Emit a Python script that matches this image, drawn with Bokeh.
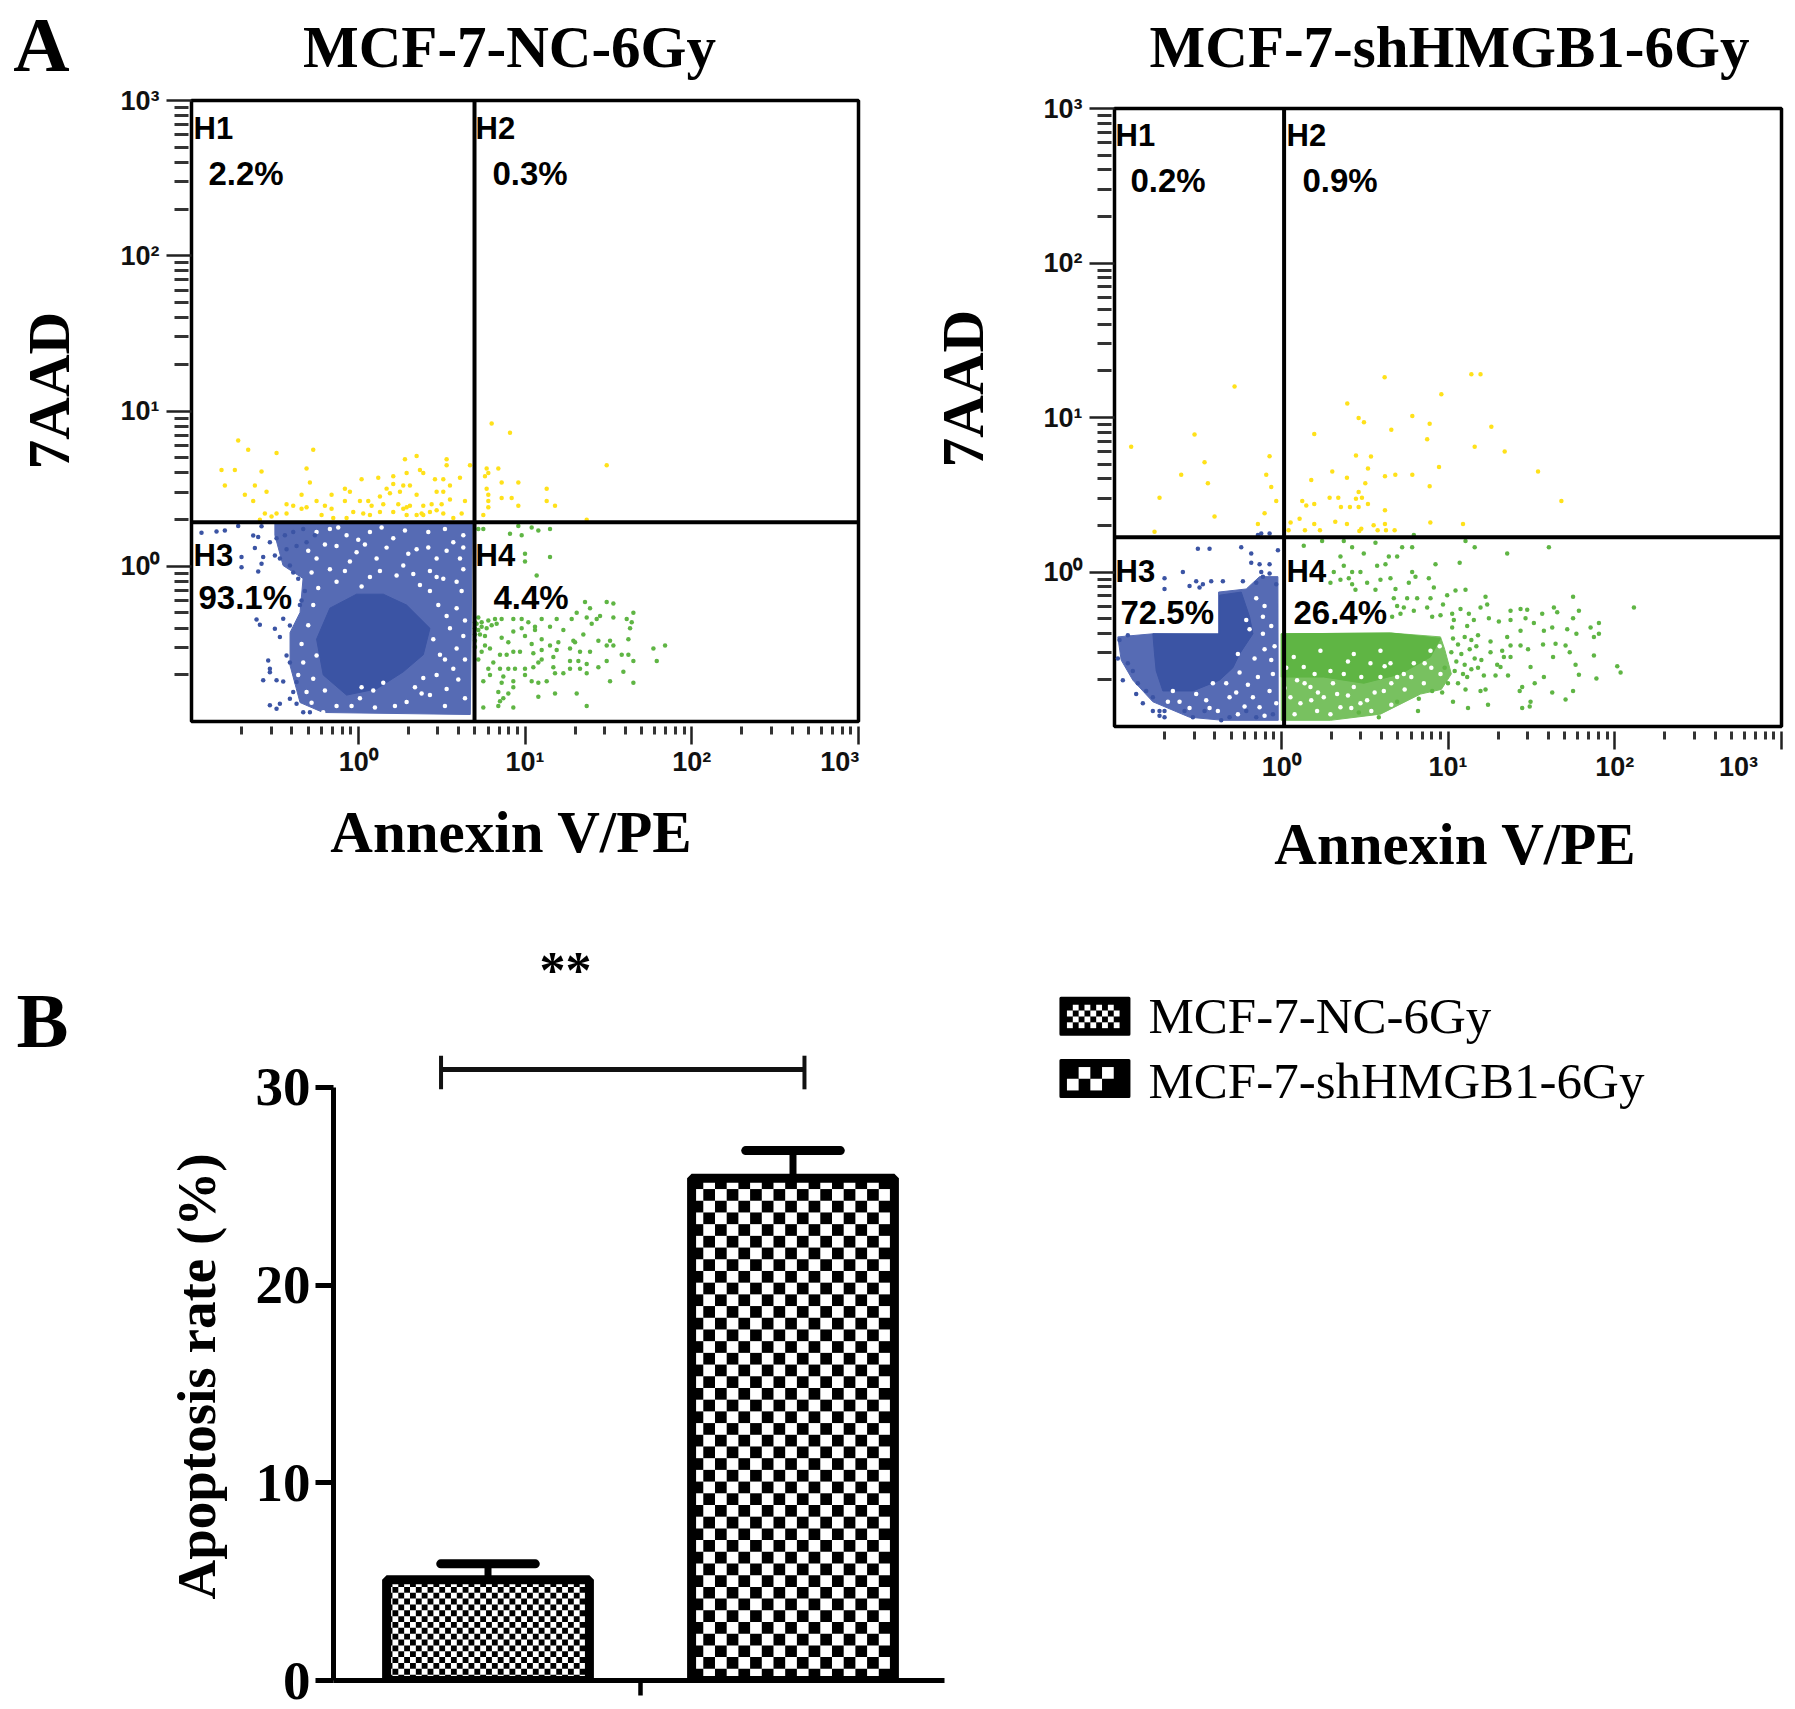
import numpy as np
from math import pi
from bokeh.plotting import figure
from bokeh.layouts import column, row
from bokeh.models import Label, Span, Range1d, FixedTicker
from bokeh.embed import file_html
from bokeh.resources import INLINE

# ---------- panel A: values are decades (log10) ----------
flow_major = [1, 10, 100, 1000]
flow_labels = {1: "10⁰", 10: "10¹", 100: "10²", 1000: "10³"}
flow_labels_x = {1: "10⁰", 10: "10¹", 100: "10²", 1000: "10³\u00A0\u00A0\u00A0\u00A0\u00A0"}
flow_minor = [m * d for d in (0.1, 1, 10, 100) for m in range(2, 10)]
gate_x = [4.98, 1.04]
gate_y = [1.92, 1.68]

nc_core_x = [-.25,-.17,-.01,.15,.29,.43,.39,.27,.11,-.07,-.21]
nc_core_y = [-.47,-.27,-.18,-.18,-.25,-.40,-.57,-.68,-.79,-.83,-.70]
nc_mid_x = [-.50,-.50,-.451,-.331,-.349,-.409,-.409,-.349,-.211,.672,.684]
nc_mid_y = [.275,.20,.005,-.079,-.298,-.427,-.639,-.878,-.942,-.955,.275]
nc_blue_x = [-.94,-.85,-.80,-.72,-.63,-.58,-.60,-.53,-.62,-.57,-.70,-.70,-.58,-.60,-.61,-.59,-.50,-.47,-.45,-.41,-.54,-.53,-.53,-.57,-.49,-.45,-.53,-.47,-.49,-.41,-.37,
             -.49,-.44,-.39,-.33,-.50,-.47,-.41,-.39,-.36,-.32,-.34,-.35,-.43,-.37,-.31,-.26,-.43,-.41,-.37,-.39,-.33,-.29]
nc_blue_y = [.215,.224,.23,.26,.198,.258,.188,.155,.117,.059,.059,-.006,.016,-.034,-.343,-.377,-.403,-.456,-.338,-.381,-.607,-.66,-.682,-.735,-.735,-.742,-.896,-.885,-.918,-.853,-.885,
             .18,.20,.22,.24,.07,.05,.005,-.04,-.08,-.16,-.22,-.25,.11,.13,.155,.20,-.575,-.62,-.745,-.81,-.94,-.94]
nc_gap_x = [-.17,-.07,.07,.21,.35,.43,.47,.57,.61,.59,.51,.43,.27,.11,-.01,-.13,-.25,-.17,-.13,.07,.02,.23,.53,.59,.55,.59,.49,.57,.47,.53,.39,.43,.29,.15,.09,.01,-.13,-.25,-.27,-.33,-.31,-.21,
            -.25,-.12,.0,.14,.28,.42,.52,.63,-.30,-.20,-.05,.04,.17,.30,.42,.53,.63,-.28,-.08,.13,.33,.47,.63,.37,.62,.48,.64,.45,.63,.52,.64,.60,.64,.52,.38,.34,.22,.10,.02,-.04,-.20,-.34,-.30,-.27,-.24,-.36,-.28]
nc_gap_y = [.24,.20,.22,.18,.11,-.03,.05,.155,.05,-.10,-.08,-.16,.005,.05,.09,.13,.05,-.02,-.10,-.07,-.13,-.06,-.32,-.27,-.40,-.53,-.57,-.66,-.70,-.79,-.72,-.83,-.875,-.75,-.80,-.85,-.90,-.575,-.725,-.62,-.81,-.94,
            .22,.25,.17,.25,.23,.22,.24,.20,.10,.14,.03,.14,.12,.08,.12,.10,.12,-.04,-.03,-.03,-.05,-.07,-.02,-.12,-.16,-.25,-.35,-.47,-.45,-.60,-.60,-.73,-.85,-.90,-.82,-.78,-.90,-.91,-.78,-.90,-.80,-.50,-.38,-.25,-.14,-.70,-.88]
nc_green_x = [.72,.75,.91,.98,1.08,1.15,1.04,.96,1.00,1.00,1.15,1.07,1.36,1.39,1.49,1.53,1.65,1.61,1.53,1.45,1.31,1.37,1.40,1.43,1.28,1.23,1.19,1.15,1.10,1.06,1.02,.98,.93,.86,.82,.78,.74,.71,.72,.77,.80,.76,.83,.93,.98,1.00,1.06,1.10,1.15,1.20,1.29,1.35,1.44,1.51,1.49,1.53,1.63,1.64,1.62,1.27,1.30,1.39,1.33,1.17,1.19,1.04,.93,.90,.86,.76,.74,.72,.79,.81,.78,.85,.89,.97,1.05,1.10,1.10,1.08,1.27,1.32,1.37,1.49,1.58,1.62,1.65,1.44,1.33,1.37,1.27,1.23,1.17,1.18,1.05,1.00,1.00,.94,.90,.85,.79,.75,.87,.86,.93,1.08,1.13,1.04,1.51,1.59,1.65,1.77,1.84,1.79,.84,.93,.90,.87,.85,1.08,1.18,1.31,1.37,.75,.93,.84,
              .70,.70,.70,.72,.74,.73,.70,.70]
nc_green_y = [.24,.24,.21,.20,.23,.24,.25,.26,.08,.03,.06,-.06,-.23,-.27,-.23,-.24,-.30,-.34,-.33,-.32,-.30,-.33,-.37,-.34,-.34,-.41,-.34,-.39,-.34,-.39,-.36,-.34,-.34,-.34,-.34,-.35,-.36,-.37,-.41,-.40,-.38,-.45,-.37,-.42,-.40,-.45,-.41,-.47,-.51,-.49,-.48,-.44,-.48,-.48,-.51,-.51,-.40,-.36,-.47,-.53,-.49,-.55,-.55,-.585,-.54,-.50,-.55,-.49,-.46,-.51,-.55,-.60,-.53,-.62,-.66,-.57,-.57,-.55,-.56,-.54,-.60,-.62,-.61,-.61,-.63,-.61,-.57,-.57,-.61,-.65,-.66,-.69,-.66,-.69,-.65,-.69,-.65,-.66,-.70,-.66,-.66,-.66,-.70,-.74,-.71,-.75,-.74,-.75,-.74,-.74,-.74,-.68,-.75,-.53,-.51,-.61,-.81,-.78,-.82,-.85,-.87,-.84,-.82,-.82,-.90,-.91,-.91,-.90,
              -.36,-.40,-.44,-.33,-.39,-.44,-.48,-.52]
nc_yellow_x = [-.72,-.66,-.49,-.27,-.82,-.74,-.58,-.31,-.80,-.62,-.68,-.55,-.63,-.29,-.34,-.43,-.39,-.25,-.31,-.34,-.20,-.16,-.16,-.08,-.05,-.08,.02,.12,.21,.28,.35,.53,.53,.29,.37,.39,.46,.51,.61,.67,.27,.31,.21,.17,.19,.25,.35,.47,.51,.55,.55,.64,.13,.01,.06,.08,.24,.15,.29,.39,.44,.50,-.03,.03,.13,.21,.27,.31,.38,.43,.47,.51,.62,-.49,-.56,-.43,-.22,-.52,-.15,-.07,.07,.29,.35,.39,.57,-.59,
               .80,.91,1.49,.77,.84,.76,.78,.86,.96,.77,1.13,.78,.86,.92,1.13,.78,.78,.96,1.18,.75,1.37]
nc_yellow_y = [.81,.75,.73,.75,.62,.62,.61,.63,.52,.52,.46,.48,.42,.54,.46,.40,.39,.42,.38,.37,.39,.46,.37,.50,.48,.42,.56,.57,.58,.69,.71,.69,.65,.60,.62,.60,.56,.56,.57,.65,.52,.52,.53,.50,.47,.48,.46,.48,.48,.52,.43,.42,.45,.42,.42,.39,.40,.40,.38,.39,.40,.40,.35,.34,.35,.35,.37,.39,.34,.35,.36,.34,.34,.34,.34,.34,.33,.32,.31,.31,.33,.33,.33,.33,.31,.30,
               .92,.86,.65,.63,.63,.58,.60,.54,.54,.50,.50,.46,.44,.44,.42,.42,.38,.39,.39,.33,.30]

sh_core_x = [-.77,-.37,-.37,-.24,-.19,-.17,-.25,-.29,-.37,-.53,-.71,-.75,-.76]
sh_core_y = [-.40,-.40,-.15,-.13,-.29,-.40,-.53,-.62,-.70,-.77,-.77,-.64,-.53]
sh_mid_x = [-.98,-.77,-.376,-.376,-.21,-.13,-.02,-.018,-.35,-.55,-.77,-.89,-.96]
sh_mid_y = [-.42,-.40,-.405,-.13,-.11,-.03,-.03,-.96,-.96,-.94,-.84,-.70,-.57]
sh_blue_x = [-.50,-.43,-.24,-.18,-.18,-.13,-.07,-.02,-.12,-.07,-.11,-.03,-.15,-.23,-.35,-.42,-.47,-.49,-.55,-.51,-.59,-.70,-.70,-.98,-.97,-.92,-.95,-.89,-.92,-.86,-.81,-.77,-.87,-.83,-.77,-.73,-.70,-.73,-.70,-.58,-.53,-.46,-.36,-.31,-.21,-.15,-.05,-.12,-.14,-.07]
sh_blue_y = [.15,.15,.16,.12,.06,.05,.05,.14,0,-.01,-.03,-.08,-.07,-.06,-.06,-.06,-.08,-.10,-.09,-.06,0,-.04,-.11,-.56,-.44,-.41,-.70,-.64,-.59,-.72,-.77,-.81,-.79,-.85,-.90,-.90,-.90,-.93,-.94,-.90,-.94,-.90,-.96,-.94,-.90,-.94,-.92,.25,.24,.25]
sh_gap_x = [-.21,-.11,-.19,-.11,-.26,-.25,-.14,-.05,-.16,-.33,-.41,-.51,-.65,-.61,-.45,-.31,-.17,-.07,-.13,-.26,
            -.15,-.10,-.06,-.04,-.10,-.06,-.20,-.27,-.43,-.55,-.38,-.10,-.03,-.22,-.68]
sh_gap_y = [-.31,-.29,-.37,-.40,-.53,-.65,-.68,-.66,-.56,-.72,-.72,-.79,-.77,-.84,-.83,-.81,-.81,-.77,-.875,-.92,
            -.17,-.22,-.35,-.48,-.50,-.57,-.73,-.78,-.88,-.88,-.90,-.93,-.85,-.87,-.84]
sh_core2_x = [0,.655,.955,.895,.715,.495,.255,0]
sh_core2_y = [-.40,-.395,-.43,-.55,-.66,-.72,-.68,-.68]
sh_mid2_x = [0,0,.295,.595,.835,.96,1.02,.98,.955,.655,0]
sh_mid2_y = [-.68,-.96,-.96,-.92,-.79,-.76,-.66,-.50,-.42,-.395,-.40]
sh_gap2_x = [.075,.135,.235,.295,.375,.435,.535,.595,.655,.735,.095,.175,.255,.335,.435,.515,.615,.115,.215,.355,.475,.695,.795,.895,.055,.295,.595,.855,.955,
             .02,.14,.22,.31,.40,.48,.56,.66,.74,.40,.62,.78,.90,.86,.08,.18,.42,.54,.66,.03,.20,.95]
sh_gap2_y = [-.55,-.615,-.51,-.64,-.66,-.53,-.59,-.51,-.59,-.66,-.70,-.745,-.81,-.79,-.745,-.83,-.77,-.85,-.90,-.875,-.85,-.68,-.59,-.51,-.81,-.92,-.68,-.72,-.66,
             -.75,-.72,-.78,-.72,-.80,-.68,-.78,-.72,-.76,-.58,-.61,-.68,-.62,-.59,-.92,-.83,-.88,-.90,-.86,-.62,-.66,-.48]
sh_green_x = [.135,.245,.375,.425,.495,.565,.725,.785,.795,1.105,1.16,1.355,1.605,.355,.645,.695,.575,.625,.925,1.07,.375,.315,.425,.475,.295,.355,.405,.425,.515,.445,.565,.595,.655,.785,.805,.885,.685,.765,.915,1.045,1.105,.995,.895,.815,.755,.675,.695,.735,.97,1.075,1.195,1.225,1.235,1.375,1.435,1.475,1.635,1.785,1.75,2.115,.665,.715,.795,.875,.905,1.025,1.125,1.245,1.155,1.305,1.375,1.465,1.515,1.565,1.655,1.75,1.115,1.035,.955,1.025,1.435,1.575,1.625,1.715,1.77,1.905,1.855,1.905,1.875,1.355,1.255,1.325,1.375,1.435,1.48,1.57,1.645,1.705,1.73,1.875,1.63,1.255,1.335,1.375,1.295,1.315,1.495,1.765,2.015,2.035,1.36,1.575,1.785,1.89,1.215,1.285,1.115,1.195,1.225,1.445,1.43,1.52,1.625,1.75,1.705,1.24,1.495,1.49,1.445,1.12,1.03,1.105,.965,.905,.825,.82,.695,.585,.465,
              1.03,1.06,1.10,1.14,1.18,1.02,1.08,1.13,1.17,1.05,1.10,1.16,1.20,1.04,1.09,1.14,1.18,1.00,1.06,.98]
sh_green_y = [.17,.20,.20,.16,.12,.19,.16,.16,.24,.20,.16,.12,.16,.10,.10,.10,.04,.05,.05,.06,.04,0,0,0,-.07,-.05,-.04,-.08,-.07,-.115,-.115,-.05,-.04,0,-.03,-.04,-.11,-.07,-.10,-.12,-.115,-.15,-.17,-.17,-.17,-.17,-.22,-.23,-.21,-.24,-.23,-.16,-.21,-.25,-.24,-.245,-.23,-.25,-.16,-.23,-.29,-.27,-.25,-.23,-.29,-.27,-.27,-.30,-.31,-.32,-.31,-.30,-.33,-.27,-.26,-.30,-.35,-.31,-.28,-.36,-.38,-.38,-.36,-.37,-.40,-.33,-.36,-.40,-.42,-.42,-.45,-.51,-.475,-.475,-.50,-.47,-.465,-.475,-.52,-.54,-.55,-.52,-.55,-.55,-.60,-.615,-.615,-.60,-.61,-.65,-.67,-.68,-.665,-.69,-.67,-.67,-.68,-.77,-.76,-.745,-.77,-.72,-.78,-.77,-.825,-.86,-.84,-.87,-.88,-.88,-.84,-.76,-.78,-.77,-.82,-.90,-.84,-.94,-.91,
              -.43,-.47,-.42,-.44,-.41,-.52,-.53,-.50,-.48,-.58,-.60,-.56,-.57,-.64,-.66,-.63,-.62,-.72,-.72,-.62]
sh_yellow_x = [-.28,-.90,-.52,-.46,-.60,-.44,-.73,-.40,-.07,-.09,-.06,-.03,-.10,-.14,-.76,.62,1.14,1.195,.96,.396,.464,.496,.786,.89,.66,.198,.875,1.16,1.26,1.34,.448,.538,.52,.306,.18,.394,.504,.622,.684,.786,.946,.89,1.54,1.68,.464,.29,.342,.448,.484,.52,.126,.15,.198,.358,.412,.464,.622,.11,.056,.198,.324,.394,.48,.554,.622,.894,1.09,.044,.142,.232,.468,.578,.628,.68]
sh_yellow_y = [1.20,.81,.89,.71,.63,.575,.48,.36,.75,.63,.55,.46,.38,.31,.26,1.26,1.28,1.28,1.15,1.09,.996,.97,1.01,.96,.92,.894,.86,.81,.94,.78,.754,.748,.67,.65,.595,.61,.575,.62,.63,.63,.68,.555,.65,.46,.517,.48,.48,.474,.48,.44,.46,.43,.44,.42,.42,.42,.40,.344,.32,.31,.325,.31,.28,.303,.31,.32,.31,.27,.27,.27,.265,.27,.27,.27]

quadrant_nc = ["H1", "H2", "H3", "H4"]
percent_nc = ["2.2%", "0.3%", "93.1%", "4.4%"]
percent_sh = ["0.2%", "0.9%", "72.5%", "26.4%"]
title_nc = "MCF-7-NC-6Gy"
title_sh = "MCF-7-shHMGB1-6Gy"

# ---------- panel B ----------
bar_pos = [1, 2]
bar_val = [5.1, 25.4]
bar_top = [5.9, 26.8]
bar_ticks = [0, 10, 20, 30]
bracket_x = [0.846, 2.0376]
bracket_y = 30.9
bracket_ends = [29.9, 31.6]

SERIF = "Liberation Serif"
SANS = "Liberation Sans"
BLUE, BLUE_MID = "#3b54a4", "#566bb4"
GREEN, GREEN_MID = "#5fb544", "#78c160"
YELLOW = "#ffe11a"
WHITE = "#ffffff"


def put(fig, origin, text, X, Y, size, font=SERIF, style="bold", align="center", angle=0):
    """Place a text given its page position; origin = frame (left, bottom)."""
    fig.add_layout(Label(x=X - origin[0], y=origin[1] - Y, x_units="screen", y_units="screen",
                         text=text, text_font=font, text_font_style=style,
                         text_font_size=f"{size}px", text_color="black", text_align=align,
                         text_baseline="middle", angle=angle))


def dec(a):
    return 10.0 ** np.array(a, dtype=float)


def blank(width, height):
    """A figure without axes that only carries texts around the plots."""
    p = figure(width=width, height=height, x_range=Range1d(0, 1), y_range=Range1d(0, 1),
               x_axis_location=None, y_axis_location=None, output_backend="svg",
               toolbar_location=None, min_border=0, outline_line_color=None,
               background_fill_color=WHITE, border_fill_color=WHITE, frame_align=False)
    p.grid.visible = False
    return p


def flow(width, height, borders, gx, gy, mids, cores, gaps, dots):
    left, right, top, bottom = borders
    p = figure(width=width, height=height, x_axis_type="log", y_axis_type="log",
               x_range=Range1d(0.1, 1000), y_range=Range1d(0.1, 1000),
               output_backend="svg", toolbar_location=None,
               min_border_left=left, min_border_right=right,
               min_border_top=top, min_border_bottom=bottom,
               background_fill_color=WHITE, border_fill_color=WHITE,
               outline_line_color="black", outline_line_width=3.5, frame_align=False)
    p.grid.visible = False
    for (x, y, c) in mids + cores:
        p.patch(dec(x), dec(y), fill_color=c, line_color=c)
    for (x, y) in gaps:
        p.scatter(dec(x), dec(y), size=4.5, color=WHITE, line_color=None)
    for (x, y, c) in dots:
        p.scatter(dec(x), dec(y), size=4.5, color=c, line_color=None)
    p.add_layout(Span(location=gx, dimension="height", line_color="black", line_width=4))
    p.add_layout(Span(location=gy, dimension="width", line_color="black", line_width=4))
    for ax in (p.xaxis[0], p.yaxis[0]):
        ax.ticker = FixedTicker(ticks=flow_major, minor_ticks=flow_minor)
        ax.major_label_text_font = SANS
        ax.major_label_text_font_style = "bold"
        ax.major_label_text_font_size = "27px"
        ax.major_label_text_color = "#111111"
        ax.axis_line_color = None
        ax.major_tick_line_color = "#222222"
        ax.minor_tick_line_color = "#333333"
        ax.major_tick_line_width = 2.5
        ax.minor_tick_line_width = 3
    p.xaxis[0].major_label_overrides = flow_labels_x
    p.yaxis[0].major_label_overrides = flow_labels
    p.xaxis[0].major_tick_in = -5
    p.xaxis[0].major_tick_out = 23
    p.xaxis[0].minor_tick_in = -5
    p.xaxis[0].minor_tick_out = 13
    p.xaxis[0].major_label_standoff = 2
    p.yaxis[0].major_tick_in = 0
    p.yaxis[0].major_tick_out = 25
    p.yaxis[0].minor_tick_in = -3
    p.yaxis[0].minor_tick_out = 17
    p.yaxis[0].major_label_standoff = 7
    return p


# ---------- left gutter with the panel letter and y title: x 0..100, y 0..795 ----------
g1 = blank(100, 795)
put(g1, (0, 795), "A", 41, 44, 78)
put(g1, (0, 795), "7AAD", 48, 390, 59, angle=pi / 2)

# ---------- header band: x 100.., y 0..80 ----------
h1 = blank(825, 80)
put(h1, (100, 80), title_nc, 509, 46, 59)
h2 = blank(870, 80)
put(h2, (925, 80), title_sh, 1449, 46, 59)

# ---------- flow plots: y 80..795 ----------
p1 = flow(825, 715, (91, 67, 20, 74), gate_x[0], gate_y[0],
          [(nc_mid_x, nc_mid_y, BLUE_MID)], [(nc_core_x, nc_core_y, BLUE)],
          [(nc_gap_x, nc_gap_y)],
          [(nc_blue_x, nc_blue_y, BLUE), (nc_green_x, nc_green_y, GREEN), (nc_yellow_x, nc_yellow_y, YELLOW)])
o1 = (191, 721)
for t, X, Y in zip(quadrant_nc, [193, 475, 193, 475], [128, 128, 555, 555]):
    put(p1, o1, t, X, Y, 31, SANS, "bold", "left")
for t, X, Y in zip(percent_nc, [208, 492, 198, 493], [173, 173, 597, 597]):
    put(p1, o1, t, X, Y, 33, SANS, "bold", "left")

g2 = blank(105, 715)
put(g2, (925, 795), "7AAD", 962, 388, 59, angle=pi / 2)

p2 = flow(765, 715, (84, 14, 28, 69), gate_x[1], gate_y[1],
          [(sh_mid_x, sh_mid_y, BLUE_MID), (sh_mid2_x, sh_mid2_y, GREEN_MID)],
          [(sh_core_x, sh_core_y, BLUE), (sh_core2_x, sh_core2_y, GREEN)],
          [(sh_gap_x, sh_gap_y), (sh_gap2_x, sh_gap2_y)],
          [(sh_blue_x, sh_blue_y, BLUE), (sh_green_x, sh_green_y, GREEN), (sh_yellow_x, sh_yellow_y, YELLOW)])
o2 = (1114, 726)
for t, X, Y in zip(quadrant_nc, [1115, 1286, 1115, 1286], [135, 135, 571, 571]):
    put(p2, o2, t, X, Y, 31, SANS, "bold", "left")
for t, X, Y in zip(percent_sh, [1130, 1302, 1120, 1293], [180, 180, 612, 612]):
    put(p2, o2, t, X, Y, 33, SANS, "bold", "left")

# ---------- footer band with the x titles: y 795..900 ----------
f1 = blank(1795, 105)
put(f1, (0, 900), "Annexin V/PE", 511, 831, 59)
put(f1, (0, 900), "Annexin V/PE", 1455, 843, 59)

# ---------- bar panel: y 900..1709 ----------
g3 = blank(240, 809)
put(g3, (0, 1709), "B", 42, 1020, 78)
put(g3, (0, 1709), "Apoptosis rate (%)", 196, 1376, 55, angle=pi / 2)

PX_X, PX_Y = 305.0, 19.77          # pixels per data unit of the bar axes
p3 = figure(width=1555, height=809, x_range=Range1d(0.4934, 5.287), y_range=Range1d(0, 39.45),
            output_backend="svg", toolbar_location=None,
            min_border_left=93, min_border_right=0, min_border_top=0, min_border_bottom=29,
            outline_line_color=None, background_fill_color=WHITE, border_fill_color=WHITE,
            frame_align=False)
p3.grid.visible = False
BAR_W = 0.665
CELLS = [5.85, 11.7]
p3.vbar(x=bar_pos, top=bar_val, width=BAR_W, fill_color=WHITE, line_color=None)
for pos, val, cell in zip(bar_pos, bar_val, CELLS):
    w, h = cell / PX_X, cell / PX_Y
    x0 = pos - BAR_W / 2
    n_col, n_row = int(BAR_W / w) + 1, int(val / h) + 1
    lefts, rights, tops, bots = [], [], [], []
    for i in range(n_col):
        for j in range(n_row):
            if (i + j) % 2 == 0:
                lefts.append(x0 + i * w)
                rights.append(min(x0 + (i + 1) * w, pos + BAR_W / 2))
                bots.append(j * h)
                tops.append(min((j + 1) * h, val))
    p3.quad(left=lefts, right=rights, bottom=bots, top=tops, fill_color="black", line_color=None)
p3.vbar(x=bar_pos, top=bar_val, width=BAR_W, fill_color=None, line_color="black", line_width=9)
p3.segment(x0=bar_pos, y0=bar_val, x1=bar_pos, y1=bar_top, line_color="black", line_width=7)
p3.segment(x0=[b - 0.155 for b in bar_pos], y0=bar_top, x1=[b + 0.155 for b in bar_pos], y1=bar_top,
           line_color="black", line_width=9, line_cap="round")
p3.segment(x0=bracket_x[0], y0=bracket_y, x1=bracket_x[1], y1=bracket_y, line_color="#111111", line_width=5)
p3.segment(x0=bracket_x, y0=[bracket_ends[0]] * 2, x1=bracket_x, y1=[bracket_ends[1]] * 2,
           line_color="#111111", line_width=4)

xa, ya = p3.xaxis[0], p3.yaxis[0]
xa.ticker = FixedTicker(ticks=[1.5])
xa.major_label_overrides = {1.5: ""}
xa.bounds = (0.4934, 2.497)
xa.axis_line_width = 5
xa.axis_line_color = "black"
xa.major_tick_in = 0
xa.major_tick_out = 15
xa.major_tick_line_width = 4.5
xa.major_tick_line_color = "black"
xa.minor_tick_line_color = None
ya.ticker = FixedTicker(ticks=bar_ticks)
ya.bounds = (0, 30)
ya.axis_line_width = 5
ya.axis_line_color = "black"
ya.major_tick_in = 0
ya.major_tick_out = 18
ya.major_tick_line_width = 5
ya.major_tick_line_color = "black"
ya.minor_tick_line_color = None
ya.major_label_standoff = 5
ya.major_label_text_font = SERIF
ya.major_label_text_font_style = "bold"
ya.major_label_text_font_size = "55px"
ya.major_label_text_color = "black"

o3 = (333, 1680)
put(p3, o3, "**", 565, 970, 52)

# legend swatches and texts
LEG_X = 2.99
LEG_Y = [33.6, 30.45]
legend_names = [title_nc, title_sh]
for ly, cell, name, Y in zip(LEG_Y, [5.85, 11.7], legend_names, [1015, 1080]):
    p3.rect(x=LEG_X, y=ly, width=68, height=36, width_units="screen", height_units="screen",
            fill_color="black", line_color="black", line_width=3, line_join="round")
    w, h = cell / PX_X, cell / PX_Y
    inner_w, inner_h = (56 / PX_X), (24 / PX_Y)
    xs, ys = [], []
    for i in range(int(inner_w / w)):
        for j in range(int(inner_h / h)):
            if (i + j) % 2 == 0:
                xs.append(LEG_X - inner_w / 2 + (i + 0.5) * w)
                ys.append(ly - inner_h / 2 + (j + 0.5) * h)
    p3.rect(x=xs, y=ys, width=w, height=h, fill_color=WHITE, line_color=None)
    put(p3, o3, name, 1148, Y, 51, SERIF, "normal", "left")

page = column(row(g1, column(row(h1, h2, spacing=0),
                             row(p1, g2, p2, spacing=0), spacing=0), spacing=0),
              f1,
              row(g3, p3, spacing=0),
              spacing=0)
open("out.html", "w").write(file_html(page, INLINE))
